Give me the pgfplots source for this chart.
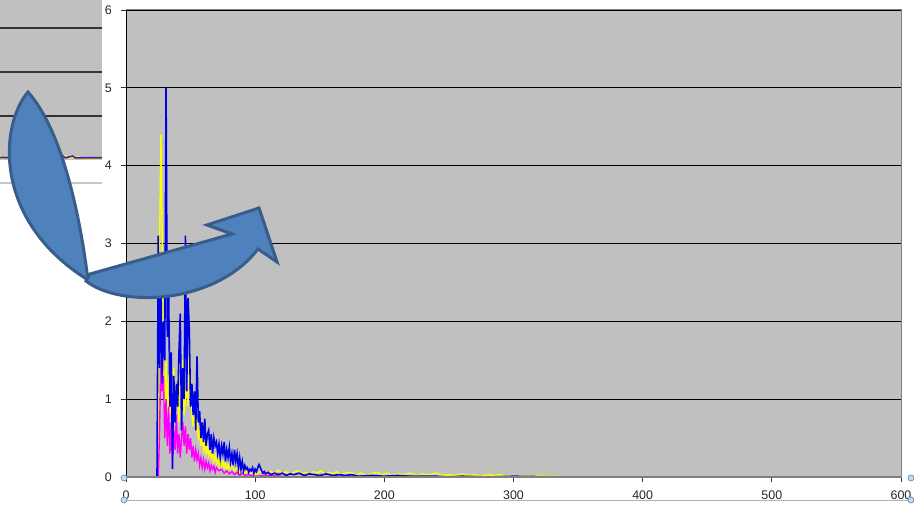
\documentclass[border=0pt]{standalone}
\usepackage{fontspec}
\setmainfont{Liberation Sans}
\usepackage{pgfplots}
\pgfplotsset{compat=1.18}
\definecolor{bgGrey}{RGB}{192,192,192}
\definecolor{frameGrey}{RGB}{128,128,128}
\definecolor{serBlue}{RGB}{0,0,230}
\definecolor{serYellow}{RGB}{255,255,0}
\definecolor{serMag}{RGB}{255,0,255}
\definecolor{insetLine}{RGB}{70,30,170}
\definecolor{arrFill}{RGB}{79,129,189}
\definecolor{arrEdge}{RGB}{56,93,138}
\definecolor{handle}{RGB}{198,219,240}
\definecolor{handleEdge}{RGB}{110,150,190}
\begin{document}
\begin{tikzpicture}
\path[use as bounding box] (0,0) rectangle (914bp,505bp);
\clip (0,0) rectangle (914bp,505bp);
% ---------- inset (partial view of another chart) ----------
\begin{axis}[
  at={(-20bp,345bp)}, anchor=south west,
  scale only axis, width=122bp, height=160bp,
  xmin=0, xmax=100, ymin=0, ymax=3.64,
  axis background/.style={fill=bgGrey},
  axis line style={draw=none},
  xtick=\empty, ytick={1,2,3}, yticklabels={},
  major tick length=0pt,
  ymajorgrids, major grid style={draw=black!80, line width=1.3bp},
  clip=true,
]
\addplot[serYellow, line width=1.3bp] coordinates {
 (0,0.05) (2,0.22) (3,0.08) (5,0.30) (6,0.06) (8,0.25) (10,0.05) (12,0.18) (14,0.04)
 (16,0.12) (18,0.04) (22,0.08) (26,0.03) (40,0.05) (60,0.03) (70,0.10) (74,0.04) (80,0.08) (84,0.03) (100,0.03)};
\addplot[insetLine, line width=1.6bp] coordinates {
 (0,0.05) (30,0.06) (50,0.05) (68,0.09) (70,0.05) (76,0.09) (78,0.05) (100,0.05)};
\end{axis}
% ---------- main chart ----------
\begin{axis}[
  at={(126bp,28bp)}, anchor=south west,
  scale only axis, width=775bp, height=467bp,
  xmin=0, xmax=600, ymin=0, ymax=6,
  xtick={0,100,...,600}, ytick={0,1,...,6},
  tick pos=left, tick align=outside, major tick length=5bp,
  tick style={draw=black!80, line width=0.8bp},
  axis background/.style={fill=bgGrey},
  axis line style={draw=frameGrey, line width=1bp},
  ymajorgrids, major grid style={draw=black, line width=1.2bp},
  /pgf/number format/assume math mode=true,
  ticklabel style={font=\fontsize{12.5}{14}\selectfont, text=black!85},
  xticklabel style={inner sep=0pt, anchor=north, yshift=-9bp},
  yticklabel style={inner sep=0pt, anchor=east, xshift=-9bp},
  clip=true,
  after end axis/.code={
    \draw[black, line width=1bp] (rel axis cs:0,0) -- (rel axis cs:0,1);
    \draw[frameGrey, line width=2bp] (rel axis cs:0,0) -- (rel axis cs:1,0);
  },
]
\addplot[serYellow, line width=1.4bp] table {
x y
24 0
25 0.5
26 2.9
27 4.4
28 3.1
29 1.2
30 0.9
31 1.5
32 0.7
33 1.3
34 0.8
35 1.1
36 0.6
37 1.4
38 0.9
39 1.2
40 1.0
41 0.7
42 1.3
43 0.9
44 1.5
45 0.8
46 1.0
47 1.3
48 0.9
49 1.6
50 1.2
51 0.8
52 0.65
53 0.9
54 0.6
55 0.75
56 0.5
57 0.6
58 0.4
59 0.55
60 0.35
61 0.45
62 0.3
63 0.4
64 0.28
65 0.35
66 0.25
67 0.3
68 0.2
69 0.28
70 0.18
71 0.25
72 0.15
73 0.22
74 0.14
75 0.2
76 0.12
77 0.18
78 0.1
79 0.16
80 0.1
82 0.14
84 0.08
86 0.12
88 0.06
90 0.1
92 0.05
94 0.08
96 0.04
98 0.07
100 0.03
103 0.06
106 0.08
109 0.04
112 0.07
115 0.05
118 0.09
121 0.04
124 0.07
127 0.03
130 0.06
133 0.08
136 0.04
139 0.06
142 0.03
145 0.07
148 0.05
151 0.08
154 0.03
157 0.06
160 0.04
163 0.07
166 0.03
170 0.05
174 0.06
178 0.03
182 0.05
186 0.02
190 0.04
194 0.06
198 0.03
202 0.05
206 0.02
210 0.04
215 0.03
220 0.05
225 0.02
230 0.04
235 0.03
240 0.05
245 0.02
250 0.03
255 0.02
260 0.04
265 0.02
270 0.03
275 0.01
280 0.03
285 0.02
290 0.03
295 0.01
300 0.02
305 0.01
310 0.02
315 0.01
320 0.02
330 0.01
340 0.0
};
\addplot[serMag, line width=1.4bp] table {
x y
25 0
26 0.6
27 1.5
28 1.1
29 1.3
30 0.5
31 1.0
32 0.4
33 0.9
34 0.3
35 0.7
36 0.2
37 0.6
38 0.35
39 0.8
40 0.3
41 0.55
42 0.25
43 0.5
44 0.7
45 0.4
46 0.65
47 0.3
48 0.55
49 0.35
50 0.5
51 0.25
52 0.4
53 0.2
54 0.35
55 0.22
56 0.3
57 0.15
58 0.25
59 0.12
60 0.22
61 0.1
62 0.2
63 0.12
64 0.18
65 0.08
66 0.15
67 0.1
68 0.14
69 0.06
70 0.12
72 0.08
74 0.1
76 0.05
78 0.08
80 0.04
82 0.07
84 0.03
86 0.06
88 0.02
90 0.05
92 0.02
95 0.03
100 0.01
110 0.02
120 0.01
130 0.0
};
\addplot[serBlue, line width=1.6bp] table {
x y
24 0
25 3.1
26 1.4
27 2.6
28 1.2
29 2.0
30 1.5
31 5.0
32 1.8
33 2.4
34 0.9
35 1.6
36 0.1
37 1.3
38 0.7
39 1.2
40 0.9
41 1.6
42 2.1
43 0.6
44 1.4
45 1.0
46 3.1
47 1.1
48 2.3
49 1.9
50 0.9
51 1.2
52 0.8
53 1.1
54 0.6
55 1.55
56 0.7
57 0.85
58 0.5
59 0.7
60 0.45
61 0.75
62 0.4
63 0.55
64 0.6
65 0.35
66 0.55
67 0.3
68 0.5
69 0.4
70 0.45
71 0.3
72 0.42
73 0.25
74 0.4
75 0.3
76 0.45
77 0.2
78 0.35
79 0.25
80 0.38
81 0.2
82 0.3
83 0.15
84 0.35
85 0.2
86 0.3
87 0.12
88 0.25
89 0.1
90 0.2
91 0.08
92 0.15
93 0.1
94 0.12
95 0.06
96 0.1
97 0.08
98 0.12
99 0.05
100 0.1
101 0.07
102 0.12
103 0.16
104 0.12
105 0.08
106 0.05
107 0.07
108 0.04
110 0.06
112 0.03
115 0.05
118 0.03
121 0.05
124 0.02
127 0.04
130 0.03
134 0.05
138 0.02
142 0.04
146 0.03
150 0.02
155 0.04
160 0.02
165 0.03
170 0.02
175 0.03
180 0.01
190 0.02
200 0.01
210 0.02
220 0.01
230 0.01
240 0.01
250 0.0
260 0.01
280 0.0
300 0.01
340 0.0
};
\end{axis}
% ---------- overlay decorations (image coordinates, y downward) ----------
\begin{scope}[x=1bp, y=-1bp, yshift=505bp]
  % inset's lower line
  \draw[black!22, line width=2bp] (0,183) -- (102,183);
  % axis selection box and handles
  \draw[black!30, line width=0.8bp] (124,500) -- (911,500);
  \foreach \p in {(124,478),(124,500),(911,478),(911,500)}
    \draw[handleEdge, fill=handle, line width=0.8bp] \p circle (3bp);
  % curved arrow: lobe
  \draw[arrEdge, fill=arrFill, line width=3bp, line join=miter]
    (28,92) .. controls (0,125) and (-8,220) .. (88,280)
    .. controls (80,215) and (62,130) .. cycle;
  % curved arrow: body and head
  \draw[arrEdge, fill=arrFill, line width=3bp, line join=miter]
    (86,281) .. controls (120,308) and (215,305) .. (258,249)
    -- (277,262) -- (259,208) -- (207,225) -- (232,234) -- (90,274) -- cycle;
\end{scope}
\end{tikzpicture}
\end{document}
